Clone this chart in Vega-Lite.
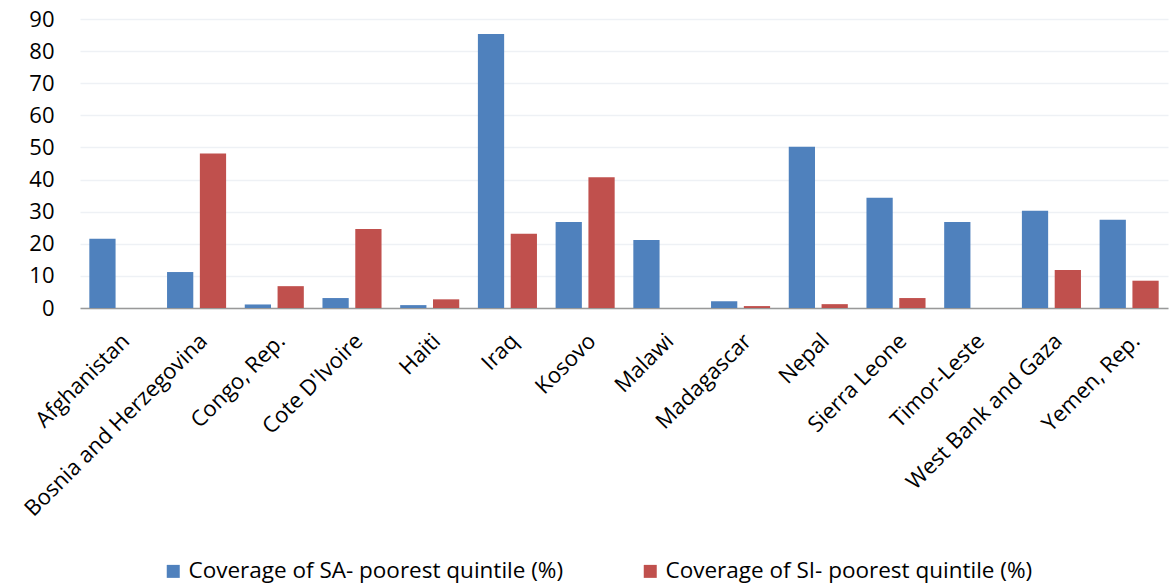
{
  "$schema": "https://vega.github.io/schema/vega-lite/v6.json",
  "autosize": {"type": "none"},
  "width": 1088,
  "height": 289,
  "padding": {"left": 80, "top": 19, "right": 4, "bottom": 280},
  "background": "white",
  "config": {
    "font": "Open Sans",
    "view": {"stroke": null}
  },
  "data": {
    "values": [
      {"country": "Afghanistan", "series": "Coverage of SA- poorest quintile (%)", "value": 21.6},
      {"country": "Afghanistan", "series": "Coverage of SI- poorest quintile (%)", "value": 0},
      {"country": "Bosnia and Herzegovina", "series": "Coverage of SA- poorest quintile (%)", "value": 11.2},
      {"country": "Bosnia and Herzegovina", "series": "Coverage of SI- poorest quintile (%)", "value": 48.1},
      {"country": "Congo, Rep.", "series": "Coverage of SA- poorest quintile (%)", "value": 1.1},
      {"country": "Congo, Rep.", "series": "Coverage of SI- poorest quintile (%)", "value": 6.8},
      {"country": "Cote D'Ivoire", "series": "Coverage of SA- poorest quintile (%)", "value": 3.1},
      {"country": "Cote D'Ivoire", "series": "Coverage of SI- poorest quintile (%)", "value": 24.6},
      {"country": "Haiti", "series": "Coverage of SA- poorest quintile (%)", "value": 0.9},
      {"country": "Haiti", "series": "Coverage of SI- poorest quintile (%)", "value": 2.7},
      {"country": "Iraq", "series": "Coverage of SA- poorest quintile (%)", "value": 85.3},
      {"country": "Iraq", "series": "Coverage of SI- poorest quintile (%)", "value": 23.1},
      {"country": "Kosovo", "series": "Coverage of SA- poorest quintile (%)", "value": 26.8},
      {"country": "Kosovo", "series": "Coverage of SI- poorest quintile (%)", "value": 40.7},
      {"country": "Malawi", "series": "Coverage of SA- poorest quintile (%)", "value": 21.2},
      {"country": "Malawi", "series": "Coverage of SI- poorest quintile (%)", "value": 0},
      {"country": "Madagascar", "series": "Coverage of SA- poorest quintile (%)", "value": 2.1},
      {"country": "Madagascar", "series": "Coverage of SI- poorest quintile (%)", "value": 0.6},
      {"country": "Nepal", "series": "Coverage of SA- poorest quintile (%)", "value": 50.2},
      {"country": "Nepal", "series": "Coverage of SI- poorest quintile (%)", "value": 1.2},
      {"country": "Sierra Leone", "series": "Coverage of SA- poorest quintile (%)", "value": 34.3},
      {"country": "Sierra Leone", "series": "Coverage of SI- poorest quintile (%)", "value": 3.1},
      {"country": "Timor-Leste", "series": "Coverage of SA- poorest quintile (%)", "value": 26.8},
      {"country": "Timor-Leste", "series": "Coverage of SI- poorest quintile (%)", "value": 0},
      {"country": "West Bank and Gaza", "series": "Coverage of SA- poorest quintile (%)", "value": 30.3},
      {"country": "West Bank and Gaza", "series": "Coverage of SI- poorest quintile (%)", "value": 11.8},
      {"country": "Yemen, Rep.", "series": "Coverage of SA- poorest quintile (%)", "value": 27.5},
      {"country": "Yemen, Rep.", "series": "Coverage of SI- poorest quintile (%)", "value": 8.5}
    ]
  },
  "mark": {"type": "bar"},
  "encoding": {
    "x": {
      "field": "country",
      "type": "nominal",
      "sort": null,
      "title": null,
      "scale": {"paddingInner": 0.24, "paddingOuter": 0.12},
      "axis": {
        "labelAngle": -45,
        "labelFontSize": 22,
        "labelColor": "black",
        "labelPadding": 22,
        "ticks": false,
        "domainColor": "#999999",
        "domainWidth": 1.5,
        "labelLimit": 400
      }
    },
    "xOffset": {
      "field": "series",
      "type": "nominal",
      "sort": null,
      "scale": {"paddingInner": 0.2, "paddingOuter": 0}
    },
    "y": {
      "field": "value",
      "type": "quantitative",
      "title": null,
      "scale": {"domain": [0, 90], "nice": false},
      "axis": {
        "values": [0, 10, 20, 30, 40, 50, 60, 70, 80, 90],
        "labelFontSize": 22,
        "labelColor": "black",
        "labelPadding": 26,
        "ticks": false,
        "domain": false,
        "gridColor": "#EEF1F5",
        "gridWidth": 1.5
      }
    },
    "color": {
      "field": "series",
      "type": "nominal",
      "sort": null,
      "scale": {"range": ["#4F81BD", "#C0504D"]},
      "legend": {
        "title": null,
        "orient": "none",
        "direction": "horizontal",
        "legendX": 82,
        "legendY": 541,
        "symbolType": "square",
        "symbolSize": 169,
        "symbolStrokeWidth": 0,
        "symbolOpacity": 1,
        "labelFontSize": 22.5,
        "labelColor": "black",
        "labelOffset": 4,
        "columnPadding": 75,
        "labelLimit": 500
      }
    }
  }
}
